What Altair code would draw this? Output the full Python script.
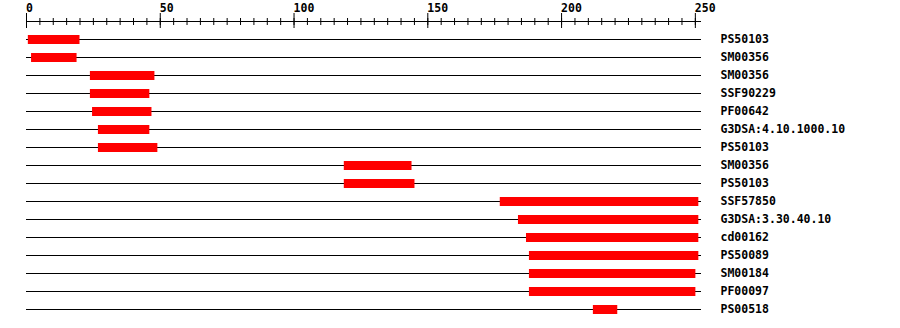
import altair as alt
import pandas as pd

# Domain hits along the sequence (residue positions)
names = [
    "PS50103", "SM00356", "SM00356", "SSF90229", "PF00642",
    "G3DSA:4.10.1000.10", "PS50103", "SM00356", "PS50103", "SSF57850",
    "G3DSA:3.30.40.10", "cd00162", "PS50089", "SM00184", "PF00097", "PS00518",
]
starts = [0.5, 1.7, 23.7, 23.7, 24.5, 26.7, 26.7, 118.6, 118.6, 176.9,
          183.7, 186.7, 187.8, 187.8, 187.8, 211.7]
ends = [20.0, 18.9, 48.0, 46.1, 46.9, 46.1, 49.1, 144.1, 145.2, 251.3,
        251.3, 251.3, 251.3, 250.2, 250.2, 221.0]
seq_length = 252.3

minor_ticks = list(range(0, 255, 5))
major_ticks = [0, 50, 100, 150, 200, 250]

FONT = "DejaVu Sans Mono"
RED = "#ff0000"

keys = [f"{i:02d}|{n}" for i, n in enumerate(names)]
hits = pd.DataFrame({
    "key": keys,
    "start": starts,
    "end": ends,
    "zero": [0.0] * len(names),
    "length": [seq_length] * len(names),
})
minor_df = pd.DataFrame({"pos": minor_ticks})
major_df = pd.DataFrame({"pos": major_ticks, "label": [str(v) for v in major_ticks]})
axis_df = pd.DataFrame({"a": [0.0], "b": [seq_length]})

xscale = alt.Scale(domain=[0, seq_length], nice=False, zero=False)

y_enc = alt.Y(
    "key:N",
    sort=keys,
    scale=alt.Scale(type="band", paddingInner=0, paddingOuter=0),
    axis=alt.Axis(
        orient="right", title=None, domain=False, ticks=False, tickSize=0,
        labelPadding=19, labelFont=FONT, labelFontSize=11.5,
        labelFontWeight="bold", labelColor="black", labelAlign="left",
        labelExpr="split(datum.label, '|')[1]", grid=False,
    ),
)

# sequence backbone per row
backbone = alt.Chart(hits).mark_rule(color="black", strokeWidth=1).encode(
    x=alt.X("zero:Q", scale=xscale, axis=None),
    x2="length:Q",
    y=y_enc,
)

bars = alt.Chart(hits).mark_bar(color=RED, size=9, xOffset=0.5).encode(
    x=alt.X("start:Q", scale=xscale, axis=None),
    x2="end:Q",
    y=y_enc,
)

# ruler along the top
ruler_line = alt.Chart(axis_df).mark_rule(color="black", strokeWidth=1).encode(
    x=alt.X("a:Q", scale=xscale, axis=None),
    x2="b:Q",
    y=alt.value(-9),
)

minor = alt.Chart(minor_df).mark_rule(color="black", strokeWidth=1, xOffset=0.5).encode(
    x=alt.X("pos:Q", scale=xscale, axis=None),
    y=alt.value(-12.5),
    y2=alt.value(-5.5),
)

major = alt.Chart(major_df).mark_rule(color="black", strokeWidth=1, xOffset=0.5).encode(
    x=alt.X("pos:Q", scale=xscale, axis=None),
    y=alt.value(-17.5),
    y2=alt.value(-2.5),
)

major_labels = alt.Chart(major_df).mark_text(
    font=FONT, fontSize=11.5, fontWeight="bold", color="black",
    align="left", baseline="alphabetic", dx=0,
).encode(
    x=alt.X("pos:Q", scale=xscale, axis=None),
    y=alt.value(-18.5),
    text="label:N",
)

chart = alt.layer(
    backbone, bars, ruler_line, minor, major, major_labels
).properties(
    width=675,
    height=288,
    autosize=alt.AutoSizeParams(type="none"),
    padding={"left": 26, "top": 30.5, "right": 199, "bottom": 9.5},
    background="white",
).configure_view(stroke="transparent")

chart.save("out.html", embed_options={"renderer": "svg", "actions": False})
